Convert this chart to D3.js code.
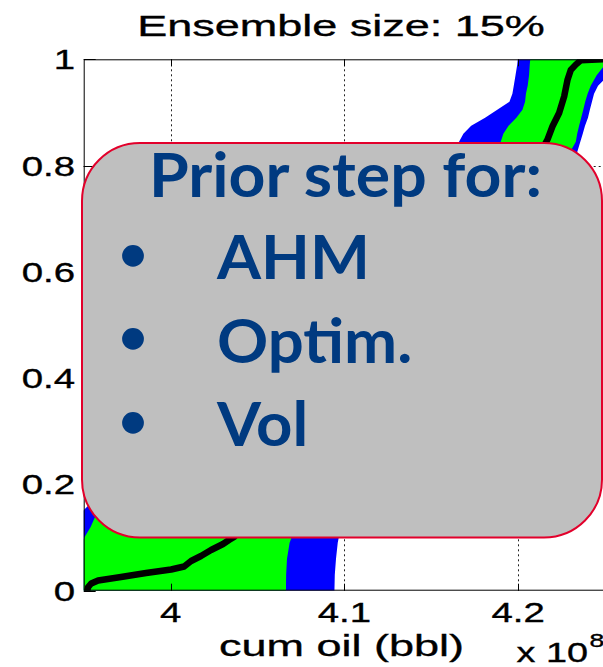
<!DOCTYPE html>
<html>
<head>
<meta charset="utf-8">
<script src="https://cdn.jsdelivr.net/npm/d3@7"></script>
<style>
  html, body { margin: 0; padding: 0; background: #fff; }
  svg { display: block; }
</style>
</head>
<body>
<script>
// Cumulative oil CDF envelopes (values in 1e8 bbl) at shared probability levels
const probLevels = [0, 0.03, 0.06, 0.09, 0.12, 0.15, 0.2, 0.3, 0.4, 0.5, 0.6, 0.7, 0.78, 0.82, 0.845, 0.86, 0.875, 0.89, 0.905, 0.92, 0.935, 0.95, 0.97, 0.99, 1];
const outerLow  = [3.935, 3.937, 3.939, 3.942, 3.946, 3.9495, 3.965, 3.995, 4.03, 4.065, 4.10, 4.13, 4.15, 4.159, 4.166, 4.1685, 4.173, 4.181, 4.188, 4.195, 4.1967, 4.1975, 4.1985, 4.1995, 4.1998];
const innerLow  = [3.93, 3.935, 3.94, 3.9485, 3.954, 3.958, 3.975, 4.01, 4.045, 4.08, 4.115, 4.145, 4.168, 4.182, 4.19, 4.1915, 4.1945, 4.199, 4.2025, 4.204, 4.2045, 4.2055, 4.2063, 4.2067, 4.207];
const innerHigh = [4.0664, 4.0665, 4.067, 4.0685, 4.072, 4.078, 4.09, 4.115, 4.14, 4.162, 4.185, 4.205, 4.222, 4.229, 4.2332, 4.234, 4.2351, 4.2363, 4.2375, 4.2386, 4.24, 4.2418, 4.2452, 4.25, 4.26];
const outerHigh = [4.0943, 4.0945, 4.0952, 4.0962, 4.098, 4.102, 4.11, 4.13, 4.15, 4.17, 4.19, 4.21, 4.226, 4.2335, 4.2358, 4.2372, 4.2385, 4.2402, 4.2413, 4.2425, 4.2437, 4.246, 4.252, 4.26, 4.265];

// Reference CDF (black curve)
const refProb = [0, 0.007, 0.0136, 0.0192, 0.0258, 0.0333, 0.0399, 0.0456, 0.0559, 0.0653, 0.0766, 0.0879, 0.0954, 0.1011, 0.15, 0.25, 0.35, 0.45, 0.55, 0.65, 0.75, 0.82, 0.849, 0.874, 0.899, 0.93, 0.961, 0.98, 0.99, 0.998, 1];
const refOil  = [3.952, 3.9526, 3.9543, 3.9583, 3.9715, 3.9859, 4.0003, 4.0078, 4.0118, 4.0175, 4.0233, 4.0302, 4.0336, 4.0365, 4.05, 4.075, 4.10, 4.125, 4.15, 4.175, 4.198, 4.212, 4.2169, 4.2198, 4.2236, 4.2265, 4.2284, 4.2303, 4.2332, 4.2361, 4.2493];

// Axis ticks
const xTicks = [4.0, 4.1, 4.2];
const xTickLabels = ["4", "4.1", "4.2"];
const yTicks = [0, 0.2, 0.4, 0.6, 0.8, 1];
const yTickLabels = ["0", "0.2", "0.4", "0.6", "0.8", "1"];

// Overlay note
const noteTitle = "Prior step for:";
const noteItems = ["AHM", "Optim.", "Vol"];

const W = 603, H = 667;
const plot = { left: 83.7, top: 59.3, right: 605, bottom: 590.7 };

const svg = d3.select("body").append("svg")
  .attr("width", W).attr("height", H)
  .attr("viewBox", `0 0 ${W} ${H}`);

svg.append("rect").attr("width", W).attr("height", H).attr("fill", "#fff");

const x = d3.scaleLinear().domain([3.95, 4.25]).range([plot.left, plot.right]);
const y = d3.scaleLinear().domain([0, 1]).range([plot.bottom, plot.top]);

svg.append("defs").append("clipPath").attr("id", "plotClip")
  .append("rect")
  .attr("x", plot.left).attr("y", plot.top)
  .attr("width", plot.right - plot.left).attr("height", plot.bottom - plot.top);

// Dotted grid
const grid = svg.append("g").attr("stroke", "#222").attr("stroke-width", 1)
  .attr("stroke-dasharray", "2,3").attr("fill", "none");
grid.selectAll("line.vx").data(xTicks).join("line")
  .attr("x1", d => Math.round(x(d)) + 0.5).attr("x2", d => Math.round(x(d)) + 0.5)
  .attr("y1", plot.top).attr("y2", plot.bottom);
grid.selectAll("line.hy").data(yTicks.slice(1, -1)).join("line")
  .attr("y1", d => Math.round(y(d)) + 0.5).attr("y2", d => Math.round(y(d)) + 0.5)
  .attr("x1", plot.left).attr("x2", plot.right);

// Bands and reference curve
const data = probLevels.map((p, i) => ({ p, ol: outerLow[i], il: innerLow[i], ih: innerHigh[i], oh: outerHigh[i] }));
const marks = svg.append("g").attr("clip-path", "url(#plotClip)");

marks.append("path").datum(data)
  .attr("fill", "#0000ff")
  .attr("d", d3.area().y(d => y(d.p)).x0(d => x(d.ol)).x1(d => x(d.oh)));
marks.append("path").datum(data)
  .attr("fill", "#00ff00")
  .attr("d", d3.area().y(d => y(d.p)).x0(d => x(d.il)).x1(d => x(d.ih)));

const ref = refProb.map((p, i) => ({ p, v: refOil[i] }));
marks.append("path").datum(ref)
  .attr("fill", "none").attr("stroke", "#000").attr("stroke-width", 6.5)
  .attr("stroke-linejoin", "round").attr("stroke-linecap", "round")
  .attr("d", d3.line().x(d => x(d.v)).y(d => y(d.p)));

// Axes frame and inward ticks
const frame = svg.append("g").attr("stroke", "#000").attr("stroke-width", 1).attr("fill", "none");
frame.append("rect")
  .attr("x", plot.left + 0.5).attr("y", plot.top + 0.5)
  .attr("width", plot.right - plot.left).attr("height", plot.bottom - plot.top - 1);
frame.selectAll("line.xb").data(xTicks).join("line")
  .attr("x1", d => Math.round(x(d)) + 0.5).attr("x2", d => Math.round(x(d)) + 0.5)
  .attr("y1", plot.bottom).attr("y2", plot.bottom - 7);
frame.selectAll("line.xt").data(xTicks).join("line")
  .attr("class", "xt")
  .attr("x1", d => Math.round(x(d)) + 0.5).attr("x2", d => Math.round(x(d)) + 0.5)
  .attr("y1", plot.top).attr("y2", plot.top + 7);
frame.selectAll("line.yl").data(yTicks).join("line")
  .attr("class", "yl")
  .attr("y1", d => Math.round(y(d)) + 0.5).attr("y2", d => Math.round(y(d)) + 0.5)
  .attr("x1", plot.left).attr("x2", plot.left + 12);

// Chart text (wide Helvetica-style lettering)
const font = "'Liberation Sans', Arial, Helvetica, sans-serif";
function wideText(xp, yp, sx, size, anchor, str) {
  return svg.append("text")
    .attr("transform", `translate(${xp},${yp}) scale(${sx},1)`)
    .attr("font-family", font).attr("font-size", size)
    .attr("text-anchor", anchor).attr("fill", "#000")
    .attr("stroke", "#000").attr("stroke-width", 0.35)
    .text(str);
}

wideText(341, 36, 1.5, 30, "middle", "Ensemble size: 15%");
wideText(341.5, 656, 1.5, 30, "middle", "cum oil (bbl)");

xTicks.forEach((t, i) => wideText(x(t), 621.7, 1.37, 28, "middle", xTickLabels[i]));
yTicks.forEach((t, i) => wideText(75, y(t) + 10, 1.37, 28, "end", yTickLabels[i]));

wideText(516.5, 661.7, 1.4, 27, "start", "x 10");
wideText(589.5, 647, 1.4, 19, "start", "8");

// Overlay note box
const note = svg.append("g");
note.append("rect")
  .attr("x", 82).attr("y", 143).attr("width", 520).attr("height", 394.5)
  .attr("rx", 58).attr("ry", 58)
  .attr("fill", "#bfbfbf").attr("stroke", "#e2002b").attr("stroke-width", 2);

const noteFont = "Lato, 'Open Sans', sans-serif";
const noteColor = "#003a80";
function noteText(xp, yp, sx, size, anchor, str) {
  return note.append("text")
    .attr("transform", `translate(${xp},${yp}) scale(${sx},1)`)
    .attr("font-family", noteFont).attr("font-weight", 700).attr("font-size", size)
    .attr("text-anchor", anchor).attr("fill", noteColor)
    .text(str);
}

noteText(345.5, 197, 1.055, 61, "middle", noteTitle);

const bulletCenter = [256, 339.3, 422.7];
noteItems.forEach((item, i) => {
  noteText(133, bulletCenter[i] + 15, 1, 50, "middle", "•");
  noteText(217, bulletCenter[i] + 23.3, 1.04, 61, "start", item);
});
</script>
</body>
</html>
